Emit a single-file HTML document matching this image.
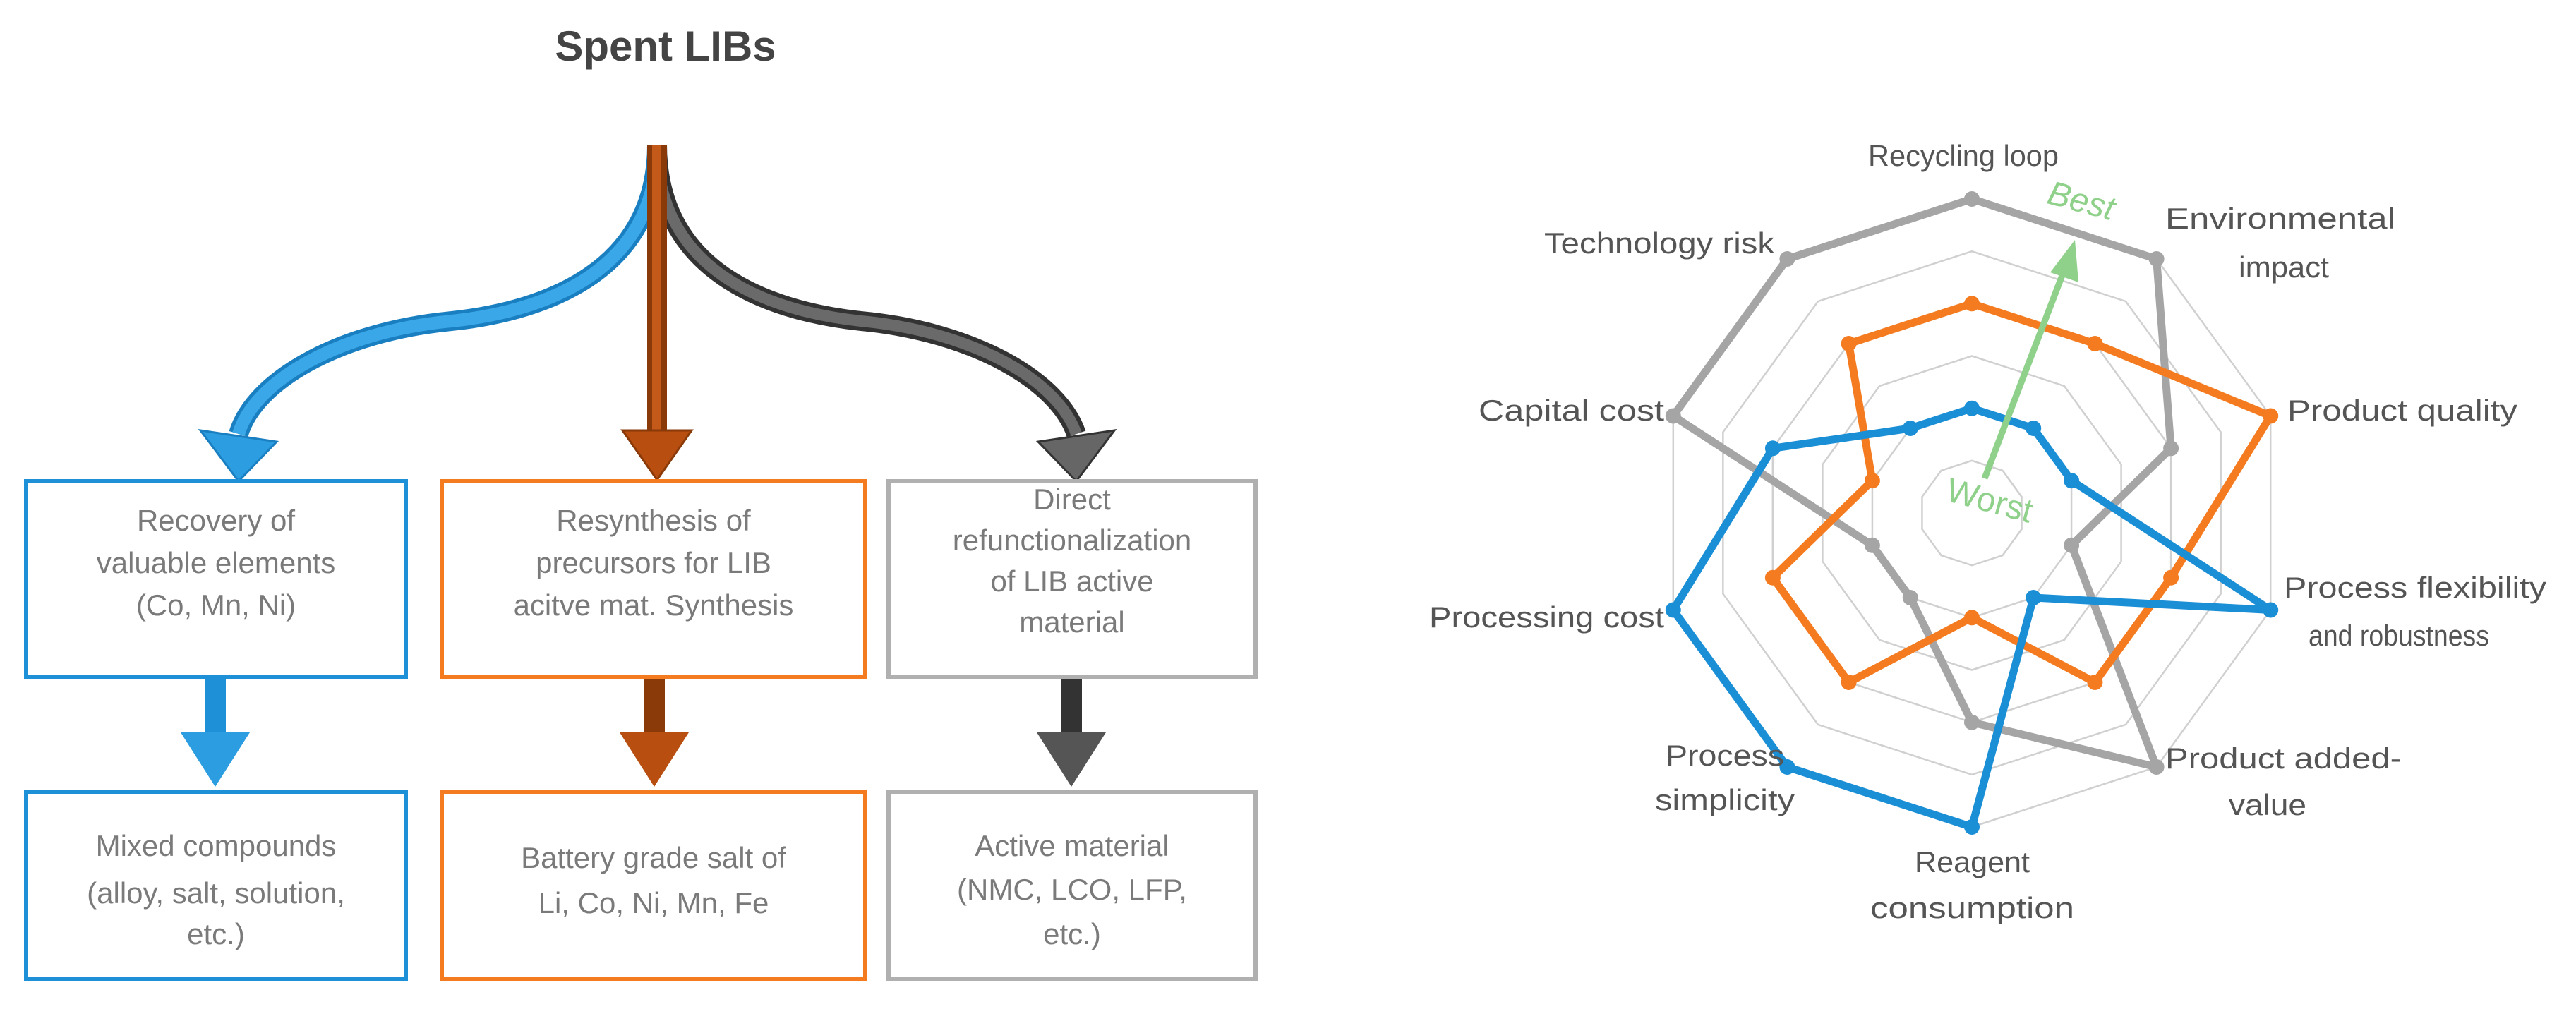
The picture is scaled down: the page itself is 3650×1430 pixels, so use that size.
<!DOCTYPE html>
<html><head><meta charset="utf-8"><style>
html,body{margin:0;padding:0;background:#fff}
svg{display:block}
.bt{font-family:"Liberation Sans",sans-serif;fill:#7a7a7a;font-size:42px;text-anchor:middle}
.cl{font-family:"Liberation Sans Narrow","Liberation Sans",sans-serif;fill:#555;font-size:42px}
</style></head><body>
<svg width="3650" height="1430" viewBox="0 0 3650 1430" xmlns="http://www.w3.org/2000/svg">
<text x="943" y="86" font-family="Liberation Sans,sans-serif" font-weight="bold" font-size="60" fill="#444" text-anchor="middle">Spent LIBs</text>

<path d="M931,205 C931,380 780,440 640,455 C480,470 360,540 338,615" fill="none" stroke="#1a7fc0" stroke-width="28"/>
<path d="M931,205 C931,380 780,440 640,455 C480,470 360,540 338,615" fill="none" stroke="#3aa8e8" stroke-width="18"/>
<polygon points="284,610 392,626 338,682" fill="#2b9de0" stroke="#1a7fc0" stroke-width="3"/>
<path d="M931,205 C931,380 1080,440 1220,455 C1380,470 1500,540 1525,615" fill="none" stroke="#333" stroke-width="28"/>
<path d="M931,205 C931,380 1080,440 1220,455 C1380,470 1500,540 1525,615" fill="none" stroke="#6a6a6a" stroke-width="16"/>
<polygon points="1471,626 1579,610 1525,682" fill="#666" stroke="#333" stroke-width="3"/>
<rect x="917" y="205" width="28" height="410" fill="#8a3a08"/>
<rect x="924" y="205" width="12" height="410" fill="#c45a1a"/>
<polygon points="882,610 980,610 931,680" fill="#b84e10" stroke="#8a3a08" stroke-width="3"/>

<rect x="37" y="682" width="538" height="278" fill="none" stroke="#1e90d8" stroke-width="6"/>
<rect x="626" y="682" width="600" height="278" fill="none" stroke="#f47b20" stroke-width="6"/>
<rect x="1259" y="682" width="520" height="278" fill="none" stroke="#b0b0b0" stroke-width="6"/>
<text class="bt" x="306" y="752">Recovery of</text>
<text class="bt" x="306" y="812">valuable elements</text>
<text class="bt" x="306" y="872">(Co, Mn, Ni)</text>
<text class="bt" x="926" y="752">Resynthesis of</text>
<text class="bt" x="926" y="812">precursors for LIB</text>
<text class="bt" x="926" y="872">acitve mat. Synthesis</text>
<text class="bt" x="1519" y="722">Direct</text>
<text class="bt" x="1519" y="780">refunctionalization</text>
<text class="bt" x="1519" y="838">of LIB active</text>
<text class="bt" x="1519" y="896">material</text>

<rect x="290" y="962" width="30" height="80" fill="#1e90d8"/>
<polygon points="256,1038 354,1038 305,1115" fill="#2b9de0"/>
<rect x="912" y="962" width="30" height="80" fill="#8a3a08"/>
<polygon points="878,1038 976,1038 927,1115" fill="#b84e10"/>
<rect x="1503" y="962" width="30" height="80" fill="#333"/>
<polygon points="1469,1038 1567,1038 1518,1115" fill="#555"/>

<rect x="37" y="1122" width="538" height="266" fill="none" stroke="#1e90d8" stroke-width="6"/>
<rect x="626" y="1122" width="600" height="266" fill="none" stroke="#f47b20" stroke-width="6"/>
<rect x="1259" y="1122" width="520" height="266" fill="none" stroke="#b0b0b0" stroke-width="6"/>
<text class="bt" x="306" y="1213">Mixed compounds</text>
<text class="bt" x="306" y="1280" font-size="34">(alloy, salt, solution,</text>
<text class="bt" x="306" y="1338" font-size="34">etc.)</text>
<text class="bt" x="926" y="1230">Battery grade salt of</text>
<text class="bt" x="926" y="1294">Li, Co, Ni, Mn, Fe</text>
<text class="bt" x="1519" y="1213">Active material</text>
<text class="bt" x="1519" y="1275">(NMC, LCO, LFP,</text>
<text class="bt" x="1519" y="1338">etc.)</text>

<g transform="translate(2794,727)">
<g fill="none" stroke="#d0d0d0" stroke-width="2.5">
<polygon vector-effect="non-scaling-stroke" transform="scale(0.1667)" points="0,-445 261.6,-360 423.2,-137.5 423.2,137.5 261.6,360 0,445 -261.6,360 -423.2,137.5 -423.2,-137.5 -261.6,-360"/>
<polygon vector-effect="non-scaling-stroke" transform="scale(0.3333)" points="0,-445 261.6,-360 423.2,-137.5 423.2,137.5 261.6,360 0,445 -261.6,360 -423.2,137.5 -423.2,-137.5 -261.6,-360"/>
<polygon vector-effect="non-scaling-stroke" transform="scale(0.5)" points="0,-445 261.6,-360 423.2,-137.5 423.2,137.5 261.6,360 0,445 -261.6,360 -423.2,137.5 -423.2,-137.5 -261.6,-360"/>
<polygon vector-effect="non-scaling-stroke" transform="scale(0.6667)" points="0,-445 261.6,-360 423.2,-137.5 423.2,137.5 261.6,360 0,445 -261.6,360 -423.2,137.5 -423.2,-137.5 -261.6,-360"/>
<polygon vector-effect="non-scaling-stroke" transform="scale(0.8333)" points="0,-445 261.6,-360 423.2,-137.5 423.2,137.5 261.6,360 0,445 -261.6,360 -423.2,137.5 -423.2,-137.5 -261.6,-360"/>
<polygon points="0,-445 261.6,-360 423.2,-137.5 423.2,137.5 261.6,360 0,445 -261.6,360 -423.2,137.5 -423.2,-137.5 -261.6,-360"/>
</g>
<polygon fill="none" stroke="#a5a5a5" stroke-width="11" stroke-linejoin="round" points="0,-445 261.6,-360 282.1,-91.7 141.1,45.8 261.6,360 0,296.7 -87.2,120 -141.1,45.8 -423.2,-137.5 -261.6,-360"/>
<g fill="#a5a5a5"><circle cx="0" cy="-445" r="11"/><circle cx="261.6" cy="-360" r="11"/><circle cx="282.1" cy="-91.7" r="11"/><circle cx="141.1" cy="45.8" r="11"/><circle cx="261.6" cy="360" r="11"/><circle cx="0" cy="296.7" r="11"/><circle cx="-87.2" cy="120" r="11"/><circle cx="-141.1" cy="45.8" r="11"/><circle cx="-423.2" cy="-137.5" r="11"/><circle cx="-261.6" cy="-360" r="11"/></g>
<polygon fill="none" stroke="#f47b20" stroke-width="11" stroke-linejoin="round" points="0,-296.7 174.4,-240 423.2,-137.5 282.1,91.7 174.4,240 0,148.3 -174.4,240 -282.1,91.7 -141.1,-45.8 -174.4,-240"/>
<g fill="#f47b20"><circle cx="0" cy="-296.7" r="11"/><circle cx="174.4" cy="-240" r="11"/><circle cx="423.2" cy="-137.5" r="11"/><circle cx="282.1" cy="91.7" r="11"/><circle cx="174.4" cy="240" r="11"/><circle cx="0" cy="148.3" r="11"/><circle cx="-174.4" cy="240" r="11"/><circle cx="-282.1" cy="91.7" r="11"/><circle cx="-141.1" cy="-45.8" r="11"/><circle cx="-174.4" cy="-240" r="11"/></g>
<polygon fill="none" stroke="#1b8fd6" stroke-width="11" stroke-linejoin="round" points="0,-148.3 87.2,-120 141.1,-45.8 423.2,137.5 87.2,120 0,445 -261.6,360 -423.2,137.5 -282.1,-91.7 -87.2,-120"/>
<g fill="#1b8fd6"><circle cx="0" cy="-148.3" r="11"/><circle cx="87.2" cy="-120" r="11"/><circle cx="141.1" cy="-45.8" r="11"/><circle cx="423.2" cy="137.5" r="11"/><circle cx="87.2" cy="120" r="11"/><circle cx="0" cy="445" r="11"/><circle cx="-261.6" cy="360" r="11"/><circle cx="-423.2" cy="137.5" r="11"/><circle cx="-282.1" cy="-91.7" r="11"/><circle cx="-87.2" cy="-120" r="11"/></g>
</g>
<line x1="2812" y1="678" x2="2924" y2="385" stroke="#8fd18a" stroke-width="9"/>
<polygon points="2940,340 2945,400 2905,386" fill="#8fd18a"/>
<text x="2945" y="300" font-family="Liberation Sans,sans-serif" font-style="italic" font-size="48" fill="#8fd18a" text-anchor="middle" transform="rotate(15 2945 300)">Best</text>
<text x="2815" y="725" font-family="Liberation Sans,sans-serif" font-size="48" fill="#8fd18a" text-anchor="middle" transform="rotate(15 2815 725)">Worst</text>

<text class="cl" x="2647" y="235" textLength="270" lengthAdjust="spacingAndGlyphs">Recycling loop</text>
<text class="cl" x="2188" y="359" textLength="326" lengthAdjust="spacingAndGlyphs">Technology risk</text>
<text class="cl" x="3068" y="324" textLength="326" lengthAdjust="spacingAndGlyphs">Environmental</text>
<text class="cl" x="3172" y="393" textLength="128" lengthAdjust="spacingAndGlyphs">impact</text>
<text class="cl" x="2095" y="596" textLength="263" lengthAdjust="spacingAndGlyphs">Capital cost</text>
<text class="cl" x="3241" y="596" textLength="326" lengthAdjust="spacingAndGlyphs">Product quality</text>
<text class="cl" x="2025" y="889" textLength="333" lengthAdjust="spacingAndGlyphs">Processing cost</text>
<text class="cl" x="3236" y="847" textLength="372" lengthAdjust="spacingAndGlyphs">Process flexibility</text>
<text class="cl" x="3271" y="915" textLength="256" lengthAdjust="spacingAndGlyphs">and robustness</text>
<text class="cl" x="2360" y="1085" textLength="168" lengthAdjust="spacingAndGlyphs">Process</text>
<text class="cl" x="2345" y="1148" textLength="198" lengthAdjust="spacingAndGlyphs">simplicity</text>
<text class="cl" x="3068" y="1089" textLength="335" lengthAdjust="spacingAndGlyphs">Product added-</text>
<text class="cl" x="3158" y="1155" textLength="110" lengthAdjust="spacingAndGlyphs">value</text>
<text class="cl" x="2713" y="1236" textLength="163" lengthAdjust="spacingAndGlyphs">Reagent</text>
<text class="cl" x="2650" y="1301" textLength="289" lengthAdjust="spacingAndGlyphs">consumption</text>
</svg>
</body></html>
